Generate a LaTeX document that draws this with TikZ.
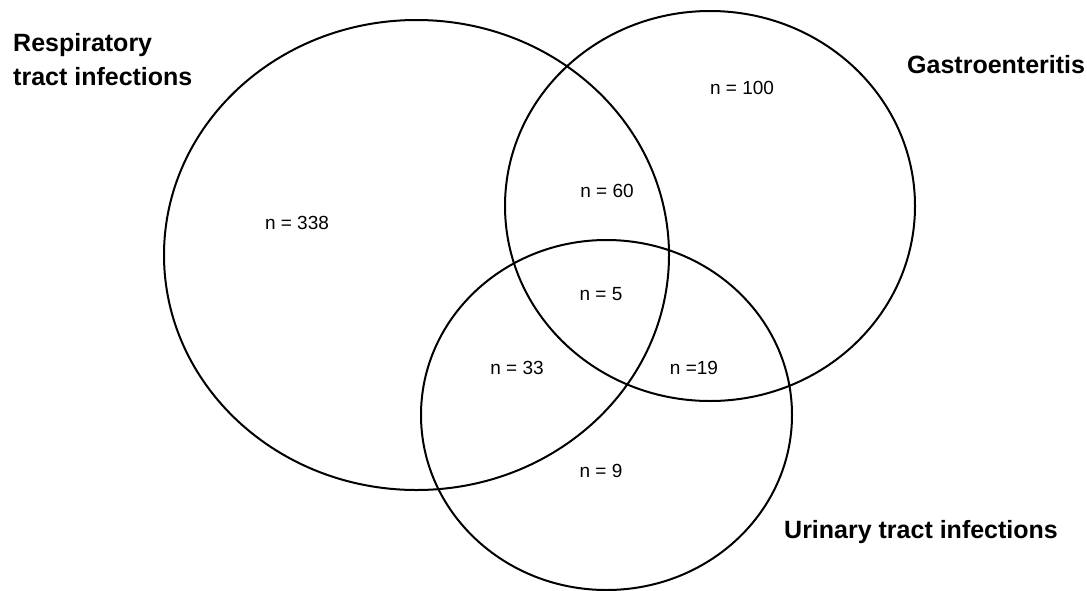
\documentclass[tikz,border=0pt]{standalone}
\usepackage{fontspec}
\setmainfont{Liberation Sans}
\usetikzlibrary{positioning}

\begin{document}
\begin{tikzpicture}[
  x=1pt, y=-1pt,
  set/.style={draw=black, line width=2pt},
  count/.style={inner sep=0pt, font=\fontsize{19}{23}\selectfont},
  title/.style={inner sep=0pt, align=left, font=\fontsize{25}{34}\selectfont\bfseries},
]
\useasboundingbox (0,0) rectangle (1087,590);

% circles of the three infection groups
\coordinate (resp) at (416.5,255);
\coordinate (gast) at (710,206);
\coordinate (uri)  at (606.5,415);
\draw[set] (resp) ellipse [x radius=252.5, y radius=235];
\draw[set] (gast) ellipse [x radius=205, y radius=195];
\draw[set] (uri)  ellipse [x radius=185.5, y radius=175];

% group names
\node[title, anchor=base west] (resplab) at (13,85) {Respiratory\\tract infections};
\node[title, anchor=base west] (gastlab) at (907,73) {Gastroenteritis};
\node[title, anchor=base west] (urilab)  at (784,538) {Urinary tract infections};

% counts per region
\node[count] (nresp) at (297,223) {n = 338};
\node[count] (ngast) at (742,88)  {n = 100};
\node[count] (nrg)   at (607,191) {n = 60};
\node[count] (nall)  at (601,294) {n = 5};
\node[count] (nru)   at (517,368) {n = 33};
\node[count] (ngu)   at (694,368) {n =19};
\node[count] (nuri)  at (601,471) {n = 9};

\end{tikzpicture}
\end{document}
